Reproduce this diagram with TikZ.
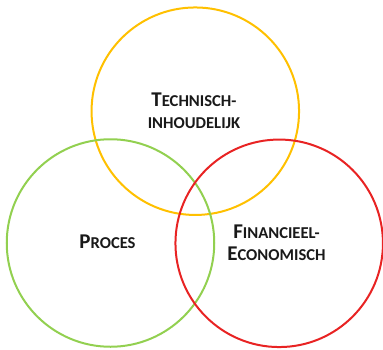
\documentclass[tikz,border=0pt]{standalone}
\usepackage{fontspec}
\setmainfont{Carlito}
\definecolor{ringyellow}{RGB}{255,192,0}
\definecolor{ringgreen}{RGB}{146,208,80}
\definecolor{ringred}{RGB}{232,35,35}
\newcommand{\fsc}[2]{{\fontsize{21}{22}\selectfont #1}{\fontsize{16.6}{22}\selectfont #2}}
\tikzset{
  ring/.style={draw=#1, line width=2pt, circle, minimum size=207.5pt, inner sep=0pt},
  lbl/.style={font=\fontsize{21}{22}\selectfont\bfseries, align=center, text=black!90, inner sep=0pt},
}
\begin{document}
\begin{tikzpicture}[x=1pt,y=-1pt]
\useasboundingbox (0,0) rectangle (383,349);
\node[ring=ringyellow] (tech) at (195.3,111.2) {};
\node[ring=ringgreen] (proc) at (110.5,243) {};
\node[ring=ringred] (fin) at (279.2,243.3) {};
\node[lbl] (techl) at (194,111) {\fsc{T}{ECHNISCH-}\\\fsc{}{INHOUDELIJK}};
\node[lbl] (procl) at (107.5,242) {\fsc{P}{ROCES}};
\node[lbl] (finl) at (276.5,243) {\fsc{F}{INANCIEEL-}\\\fsc{E}{CONOMISCH}};
\end{tikzpicture}
\end{document}
